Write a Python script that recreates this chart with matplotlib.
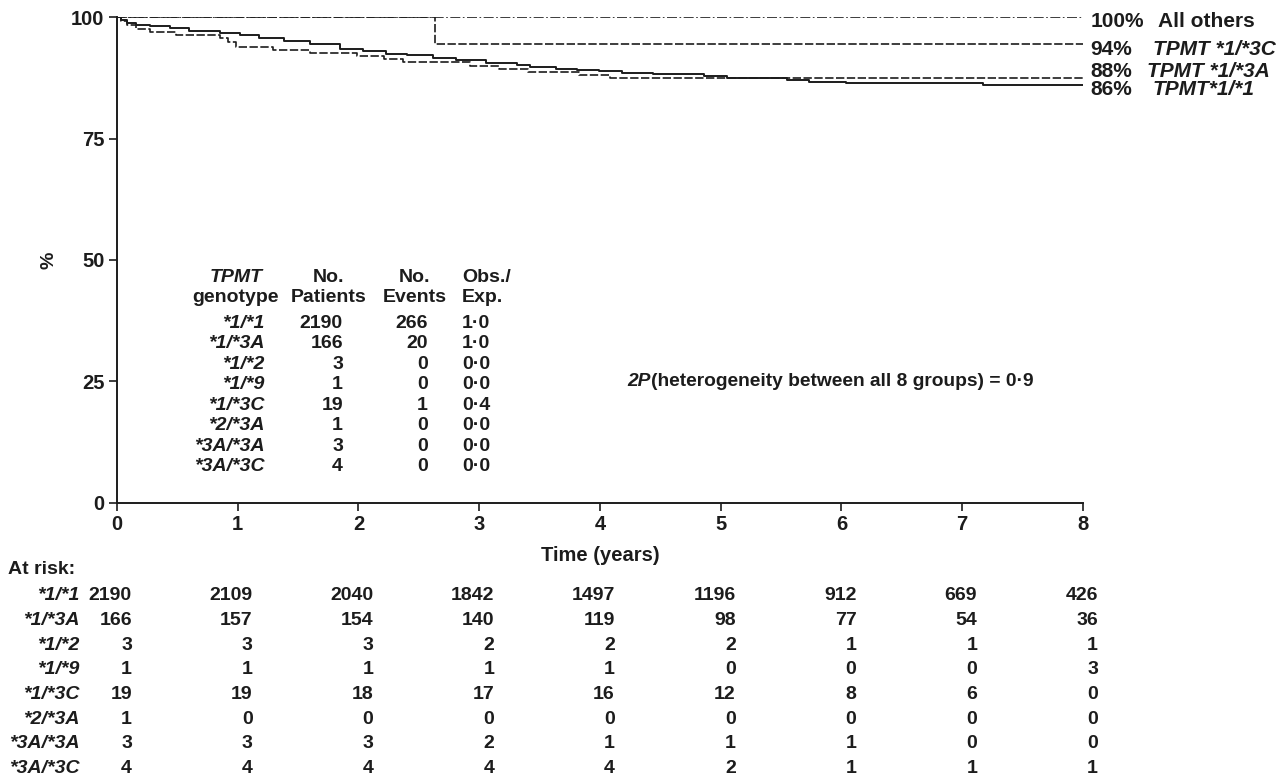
import numpy as np
import matplotlib
matplotlib.use("Agg")
import matplotlib.pyplot as plt
import matplotlib.transforms as mtrans

plt.rcParams['font.family'] = ['Liberation Sans', 'DejaVu Sans']
plt.rcParams['font.weight'] = 'bold'

# Kaplan-Meier step curves
t_11 = [0, 0.03, 0.08, 0.16, 0.27, 0.44, 0.60, 0.85, 1.02, 1.18, 1.38, 1.60, 1.85, 2.04, 2.23,
        2.40, 2.62, 2.81, 3.06, 3.31, 3.42, 3.64, 3.81, 3.99, 4.18, 4.44, 4.86, 5.05, 5.55, 5.73,
        6.04, 7.17, 8.0]
s_11 = [100, 99.4, 98.8, 98.3, 98.1, 97.8, 97.2, 96.8, 96.2, 95.7, 95.0, 94.5, 93.5, 93.0, 92.4,
        92.1, 91.6, 91.1, 90.5, 90.1, 89.7, 89.4, 89.1, 88.8, 88.4, 88.2, 87.8, 87.5, 87.1, 86.7,
        86.4, 86.0, 86.0]
t_13a = [0, 0.03, 0.08, 0.16, 0.27, 0.49, 0.85, 0.92, 0.99, 1.29, 1.60, 1.99, 2.21, 2.37, 2.92,
         3.16, 3.40, 3.83, 4.08, 8.0]
s_13a = [100, 99.2, 98.4, 97.6, 96.9, 96.4, 95.7, 94.8, 93.9, 93.3, 92.6, 91.9, 91.3, 90.7, 90.0,
         89.3, 88.6, 88.0, 87.5, 87.5]
t_13c = [0, 2.63, 8.0]
s_13c = [100, 94.4, 94.4]
t_oth = [0, 8.0]
s_oth = [100, 100]

end_pct = ['100%', '94%', '88%', '86%']
end_names = ['All others', 'TPMT *1/*3C', 'TPMT *1/*3A', 'TPMT*1/*1']

# table in plot
genotypes = ['*1/*1', '*1/*3A', '*1/*2', '*1/*9', '*1/*3C', '*2/*3A', '*3A/*3A', '*3A/*3C']
n_patients = [2190, 166, 3, 1, 19, 1, 3, 4]
n_events = [266, 20, 0, 0, 1, 0, 0, 0]
obs_exp = ['1·0', '1·0', '0·0', '0·0', '0·4', '0·0', '0·0', '0·0']

# numbers at risk
risk_years = [0, 1, 2, 3, 4, 5, 6, 7, 8]
at_risk = [
    [2190, 2109, 2040, 1842, 1497, 1196, 912, 669, 426],
    [166, 157, 154, 140, 119, 98, 77, 54, 36],
    [3, 3, 3, 2, 2, 2, 1, 1, 1],
    [1, 1, 1, 1, 1, 0, 0, 0, 3],
    [19, 19, 18, 17, 16, 12, 8, 6, 0],
    [1, 0, 0, 0, 0, 0, 0, 0, 0],
    [3, 3, 3, 2, 1, 1, 1, 0, 0],
    [4, 4, 4, 4, 4, 2, 1, 1, 1],
]

ink = '#1c1c1c'

fig = plt.figure(figsize=(12.88, 7.81), dpi=100)
ax = fig.add_axes([0.0908, 0.356, 0.750, 0.6222])

lw = 1.2
ax.step(t_oth, s_oth, where='post', color=ink, lw=lw, ls=(0, (6, 1.5, 1, 1.5)))
ax.step(t_13c, s_13c, where='post', color=ink, lw=lw, ls=(0, (5, 1.5)))
ax.step(t_13a, s_13a, where='post', color=ink, lw=lw, ls=(0, (5, 1.5)))
ax.step(t_11, s_11, where='post', color=ink, lw=1.4, ls='-')

ax.set_xlim(0, 8)
ax.set_ylim(0, 100)
ax.set_xticks(range(0, 9))
ax.set_yticks([0, 25, 50, 75, 100])
for s in ['top', 'right']:
    ax.spines[s].set_visible(False)
for s in ['left', 'bottom']:
    ax.spines[s].set_linewidth(1.4)
    ax.spines[s].set_color(ink)
ax.tick_params(direction='out', length=6, width=1.2, labelsize=14.5, colors=ink, pad=3)
for lab in ax.get_xticklabels() + ax.get_yticklabels():
    lab.set_fontweight('bold')
ax.set_xlabel('Time (years)', fontsize=14.5, fontweight='bold', color=ink, labelpad=8)
ax.set_ylabel('%', fontsize=14, fontweight='bold', color=ink, labelpad=10)

# labels at the ends of the curves
end_y = [99.0, 93.4, 88.7, 85.0]
name_x = [8.62, 8.58, 8.53, 8.58]
for pct, name, y, nx in zip(end_pct, end_names, end_y, name_x):
    ax.text(8.06, y, pct, fontsize=15, fontweight='bold', va='center', ha='left',
            color=ink, clip_on=False)
    ax.text(nx, y, name, fontsize=15, fontweight='bold', va='center', ha='left',
            style='normal' if name == 'All others' else 'italic', color=ink, clip_on=False)

# table
fs = 14
ax.text(0.985, 46.3, 'TPMT', fontsize=fs, style='italic', ha='center', va='center', color=ink)
ax.text(0.985, 42.2, 'genotype', fontsize=fs, ha='center', va='center', color=ink)
ax.text(1.756, 46.3, 'No.', fontsize=fs, ha='center', va='center', color=ink)
ax.text(1.756, 42.2, 'Patients', fontsize=fs, ha='center', va='center', color=ink)
ax.text(2.468, 46.3, 'No.', fontsize=fs, ha='center', va='center', color=ink)
ax.text(2.468, 42.2, 'Events', fontsize=fs, ha='center', va='center', color=ink)
ax.text(2.857, 46.3, 'Obs./', fontsize=fs, ha='left', va='center', color=ink)
ax.text(2.857, 42.2, 'Exp.', fontsize=fs, ha='left', va='center', color=ink)
for i, g in enumerate(genotypes):
    y = 37.0 - i * 4.22
    ax.text(1.226, y, g, fontsize=fs, style='italic', ha='right', va='center', color=ink)
    ax.text(1.872, y, str(n_patients[i]), fontsize=fs, ha='right', va='center', color=ink)
    ax.text(2.576, y, str(n_events[i]), fontsize=fs, ha='right', va='center', color=ink)
    ax.text(2.857, y, obs_exp[i], fontsize=fs, ha='left', va='center', color=ink)

t2p = ax.text(4.23, 25.0, '2P', fontsize=13.8, style='italic', ha='left', va='center', color=ink)
ax.annotate('(heterogeneity between all 8 groups) = 0·9', xy=(1, 0.5), xycoords=t2p,
            fontsize=13.8, fontweight='bold', ha='left', va='center', color=ink)

# at risk table below the axis
trans = mtrans.blended_transform_factory(ax.transData, fig.transFigure)
fig.text(8 / 1288, 1 - 570 / 781, 'At risk:', fontsize=14, ha='left', va='center', color=ink)
for i, g in enumerate(genotypes):
    yf = 1 - (596 + i * 24.6) / 781
    fig.text(80 / 1288, yf, g, fontsize=14, style='italic', ha='right', va='center', color=ink)
    for yr, n in zip(risk_years, at_risk[i]):
        ax.text(yr + 0.124, yf, str(n), transform=trans, fontsize=14, ha='right', va='center',
                color=ink, clip_on=False)

fig.savefig('out.png', dpi=100, facecolor='white')
